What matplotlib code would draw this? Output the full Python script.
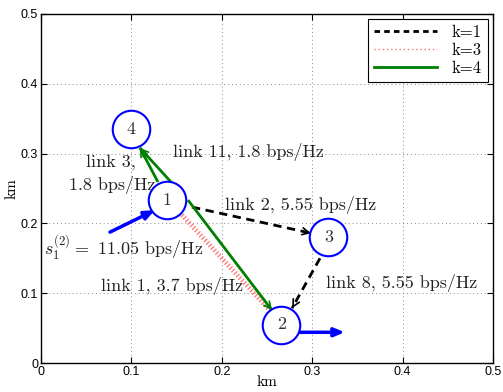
import numpy as np
import matplotlib
matplotlib.use('Agg')
import matplotlib.pyplot as plt
from matplotlib.lines import Line2D

plt.rcParams['mathtext.fontset'] = 'cm'

# node positions (km)
node_ids = ['1', '2', '3', '4']
node_x = [0.139, 0.266, 0.318, 0.100]
node_y = [0.233, 0.055, 0.180, 0.335]

# links: start x, start y, end x, end y
k1_links = [(0.167, 0.2234, 0.2987, 0.186),
            (0.3086, 0.150, 0.2777, 0.0785)]
k3_links = [(0.156, 0.212, 0.253, 0.0756)]
k4_links = [(0.1294, 0.2593, 0.1095, 0.308),
            (0.1449, 0.2578, 0.1095, 0.308),
            (0.1626, 0.2334, 0.2555, 0.0756)]
flow_in = (0.0763, 0.1875, 0.126, 0.219)
flow_out = (0.2865, 0.044, 0.336, 0.044)

labels = [(0.146, 0.302, 'link 11, 1.8 bps/Hz'),
          (0.050, 0.288, 'link 3,'),
          (0.031, 0.255, '1.8 bps/Hz'),
          (0.203, 0.226, 'link 2, 5.55 bps/Hz'),
          (0.003, 0.164, r'$s_1^{(2)}=$ 11.05 bps/Hz'),
          (0.066, 0.111, 'link 1, 3.7 bps/Hz'),
          (0.315, 0.114, 'link 8, 5.55 bps/Hz')]

fig = plt.figure(figsize=(5.03, 3.92), dpi=100)
ax = fig.add_axes([41/503, 1 - 363/392, 452/503, 349/392])

serif = 'cmr10'
green = '#007f00'
red = '#ff7070'


def draw_link(seg, color, lw, ls, head=True):
    x0, y0, x1, y1 = seg
    ax.plot([x0, x1], [y0, y1], color=color, lw=lw, linestyle=ls,
            solid_capstyle='butt', zorder=3)
    if head:
        dx, dy = x1 - x0, y1 - y0
        ax.annotate('', xy=(x1, y1), xytext=(x1 - 0.05 * dx, y1 - 0.05 * dy),
                    arrowprops=dict(arrowstyle='->,head_length=0.5,head_width=0.25',
                                    color=color, lw=lw * 0.6,
                                    shrinkA=0, shrinkB=0), zorder=3)


for seg in k1_links:
    draw_link(seg, 'black', 2, (0, (3, 2)))
for seg in k3_links:
    draw_link(seg, red, 3.5, (0, (0.25, 0.45)), head=False)
for seg in k4_links:
    draw_link(seg, green, 2, '-')

for (x0, y0, x1, y1) in [flow_in, flow_out]:
    ax.annotate('', xy=(x1, y1), xytext=(x0, y0),
                arrowprops=dict(arrowstyle='-|>,head_length=0.6,head_width=0.25',
                                color='blue', lw=2.5, shrinkA=0, shrinkB=0))

ax.plot(node_x, node_y, 'o', ms=27, mfc='white', mec='blue', mew=1.5, zorder=5)
for nid, x, y in zip(node_ids, node_x, node_y):
    ax.text(x, y, nid, ha='center', va='center', fontsize=13,
            family=serif, color='#333333', zorder=6)

for x, y, s in labels:
    ax.text(x, y, s, fontsize=13, family=serif, color='#222222', va='center')

handles = [Line2D([], [], color='black', lw=2, linestyle=(0, (2, 1.5))),
           Line2D([], [], color=red, lw=1, linestyle=(0, (1, 2))),
           Line2D([], [], color=green, lw=2)]
leg = ax.legend(handles, ['k=1', 'k=3', 'k=4'], loc='upper right',
                prop={'family': serif, 'size': 12}, fancybox=False,
                edgecolor='black', framealpha=1, handlelength=3.8,
                handletextpad=0.9, labelspacing=0.15, borderaxespad=0.3,
                borderpad=0.35)
leg.get_frame().set_linewidth(0.8)

ax.set_xlim(0, 0.5)
ax.set_ylim(0, 0.5)
ax.set_xticks(np.arange(0, 0.51, 0.1))
ax.set_yticks(np.arange(0, 0.51, 0.1))
ax.set_xticklabels(['0', '0.1', '0.2', '0.3', '0.4', '0.5'])
ax.set_yticklabels(['0', '0.1', '0.2', '0.3', '0.4', '0.5'])
ax.tick_params(direction='in', top=True, right=True, labelsize=9, length=4, pad=2)
for t in ax.get_xticklabels() + ax.get_yticklabels():
    t.set_family('Liberation Sans')
ax.grid(True, linestyle=(0, (1, 3)), color='#888888', lw=0.7)
ax.set_xlabel('km', family=serif, fontsize=11, labelpad=-2)
ax.set_ylabel('km', family=serif, fontsize=11, labelpad=2)
for sp in ax.spines.values():
    sp.set_linewidth(1)

fig.savefig('out.png', dpi=100)
